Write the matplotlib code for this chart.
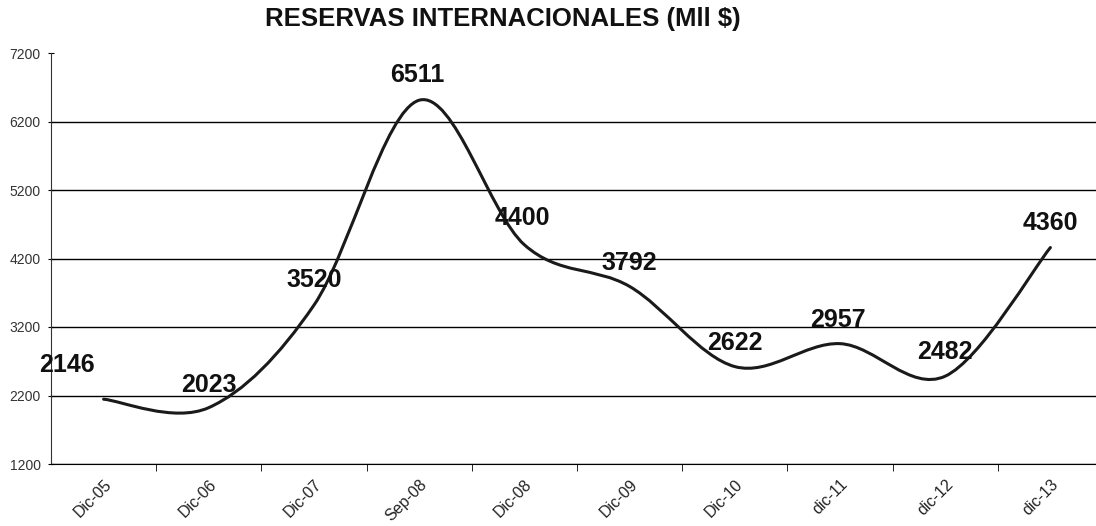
import numpy as np
import matplotlib.pyplot as plt
from matplotlib.path import Path
from matplotlib.patches import PathPatch

plt.rcParams['font.family'] = ['Liberation Sans', 'DejaVu Sans']

# Data
periods = ['Dic-05', 'Dic-06', 'Dic-07', 'Sep-08', 'Dic-08',
           'Dic-09', 'Dic-10', 'dic-11', 'dic-12', 'dic-13']
reserves = [2146, 2023, 3520, 6511, 4400, 3792, 2622, 2957, 2482, 4360]
# label offsets in pixels (dx, dy) relative to each point
label_dx = [-37, 0, 0, -2, -2, 0, 0, -2, 0, 0]
label_dy = [34, 23, 25, 25, 27, 23, 24, 24, 24, 25]
y_ticks = [1200, 2200, 3200, 4200, 5200, 6200, 7200]

fig = plt.figure(figsize=(10.96, 5.26), dpi=100)
ax = fig.add_axes([51 / 1096, 62 / 526, 1052 / 1096, 411 / 526])

x = np.arange(len(reserves))
y = np.array(reserves, dtype=float)

# smoothed line (Excel-like), built as cubic Bezier segments through the points
pts = np.column_stack([x, y])
verts = [pts[0]]
codes = [Path.MOVETO]
n = len(pts)
for i in range(n - 1):
    p0 = pts[i - 1] if i > 0 else pts[i]
    p1 = pts[i]
    p2 = pts[i + 1]
    p3 = pts[i + 2] if i + 2 < n else pts[i + 1]
    verts += [p1 + (p2 - p0) / 6, p2 - (p3 - p1) / 6, p2]
    codes += [Path.CURVE4] * 3
ax.add_patch(PathPatch(Path(verts, codes), fill=False, edgecolor='#1a1a1a',
                       lw=2.2, zorder=3, capstyle='round'))

# gridlines
for t in y_ticks[:-1]:
    ax.axhline(t, color='black', lw=1.0, zorder=1)

for xi, yi, lab, dx, dy in zip(x, y, reserves, label_dx, label_dy):
    ax.annotate(str(lab), (xi, yi), textcoords='offset pixels', xytext=(dx, dy),
                ha='center', va='center', fontsize=18, fontweight='bold',
                color='#111111', zorder=4)

ax.set_xlim(-0.5, len(reserves) - 0.5)
ax.set_ylim(1200, 7200)
ax.set_yticks(y_ticks)
ax.set_yticklabels([str(t) for t in y_ticks], fontsize=10, color='#333333')
ax.set_xticks(x)
ax.set_xticklabels(periods, rotation=45, ha='right', rotation_mode='anchor',
                   fontsize=11.5, color='#222222')
ax.tick_params(axis='x', length=0, pad=9)
ax.set_xticks(np.arange(0.5, len(reserves) - 0.5), minor=True)
ax.tick_params(axis='x', which='minor', length=5, direction='out', color='black')
ax.tick_params(axis='y', length=5, direction='inout', color='black', pad=5)

for s in ['top', 'right']:
    ax.spines[s].set_visible(False)
ax.spines['left'].set_color('#333333')
ax.spines['bottom'].set_color('black')

fig.text(503 / 1096, 1 - 19 / 526, 'RESERVAS INTERNACIONALES (Mll $)',
         ha='center', va='center', fontsize=18.5, fontweight='bold', color='#111111')

fig.savefig('out.png', dpi=100)
